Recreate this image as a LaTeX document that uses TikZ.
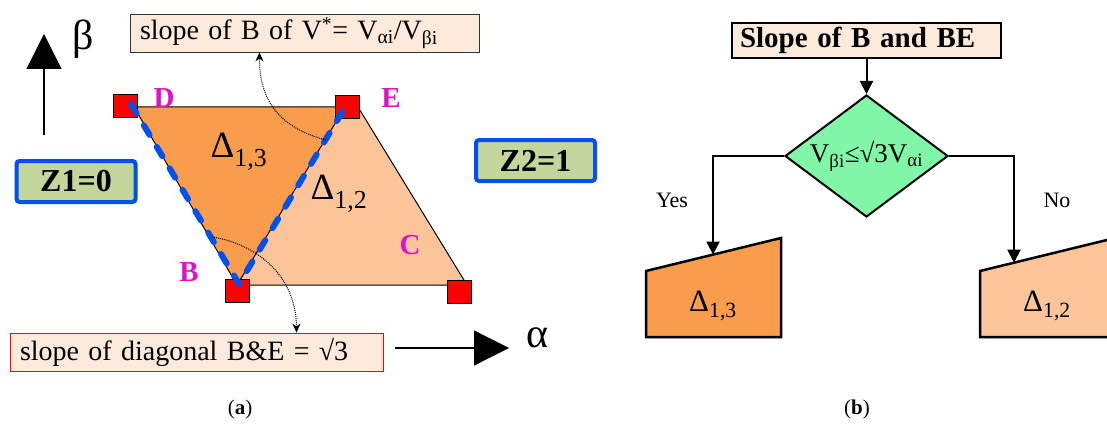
\documentclass[tikz,border=0pt]{standalone}
\usepackage{fontspec}
\setmainfont{Liberation Serif}
\usetikzlibrary{arrows.meta, positioning, shapes.geometric, calc}
\definecolor{peach}{RGB}{253,234,218}
\definecolor{darkorg}{RGB}{249,157,76}
\definecolor{lightorg}{RGB}{251,196,153}
\definecolor{zgreen}{RGB}{195,214,155}
\definecolor{zblue}{RGB}{0,80,240}
\definecolor{dgreen}{RGB}{128,247,166}
\definecolor{lblpink}{RGB}{228,16,200}
\newcommand{\fsz}[1]{\fontsize{#1}{#1}\selectfont}

\tikzset{
  vtx/.style={draw=black, fill=red, minimum width=24pt, minimum height=23pt, inner sep=0pt, line width=0.8pt},
  vlbl/.style={text=lblpink, font=\fsz{29}\bfseries, inner sep=0pt},
  zbox/.style={draw=zblue, fill=zgreen, line width=4pt, rounded corners=3pt, minimum width=119pt, minimum height=41pt, inner sep=0pt, font=\fsz{32}\bfseries},
  notebox/.style={fill=peach, line width=0.8pt, minimum height=38pt, inner xsep=10pt, inner ysep=0pt, align=left, font=\fsz{28}},
  flow/.style={line width=2pt, -{Triangle[length=13pt,width=13pt]}},
  hint/.style={densely dotted, line width=1pt, -{Stealth[length=9pt,width=8pt]}},
  axis/.style={line width=1.2pt, -{Triangle[length=35pt,width=35pt]}},
}

\begin{document}
\begin{tikzpicture}[x=1pt, y=-1pt]
  \useasboundingbox (0,0) rectangle (1107,425);
  \clip (0,0) rectangle (1107,425);

  \coordinate (D) at (134,107);
  \coordinate (E) at (358,107);
  \coordinate (C) at (467,285);
  \coordinate (B) at (237,285);
  \coordinate (Et) at (345,107);

  \fill[lightorg] (D) -- (E) -- (C) -- (B) -- cycle;
  \fill[darkorg] (D) -- (Et) -- (B) -- cycle;
  \draw[line width=1pt] (D) -- (E) -- (C) -- (B) -- cycle;
  \draw[line width=1pt] (B) -- (Et);

  \node[vtx] (sqD) at (125,105.5) {};
  \node[vtx] (sqE) at (347,106.5) {};
  \node[vtx] (sqB) at (237.5,291) {};
  \node[vtx] (sqC) at (459,291.5) {};

  \draw[zblue, line width=6pt, line cap=round, line join=round, dash pattern=on 11pt off 14pt]
    (131,104) -- (239,284) -- (347,104);

  \node[vlbl] (lD) at (164,98) {D};
  \node[vlbl] (lE) at (391,98) {E};
  \node[vlbl] (lB) at (189,272) {B};
  \node[vlbl] (lC) at (410,245) {C};

  \node[font=\fsz{37}, inner sep=0pt] (d13) at (239,152) {Δ\textsubscript{1,3}};
  \node[font=\fsz{37}, inner sep=0pt] (d12) at (339,194) {Δ\textsubscript{1,2}};

  \node[zbox] (z1) at (76,181.5) {Z1=0};
  \node[zbox] (z2) at (535.5,160.5) {Z2=1};

  \node[notebox, draw=black!80, text width=329pt] (slopeB) at (304.5,33)
    {slope of B of V\textsuperscript{*}= V\textsubscript{αi}/V\textsubscript{βi}};
  \node[notebox, draw=red, text width=353pt] (slopeBE) at (196.5,352)
    {slope of diagonal B\&E = √3};

  \coordinate (hitE) at (326,140);
  \coordinate (hitD) at (212,237);
  \draw[hint] (hitE) .. controls (288,130) and (259,108) .. ([xshift=-45pt]slopeB.south);
  \draw[hint] (hitD) .. controls (252,243) and (296,272) .. ([xshift=100pt]slopeBE.north);

  \coordinate (betaTail) at (44,135);
  \coordinate (betaTip) at (44,34);
  \coordinate (alphaTail) at (395,348);
  \coordinate (alphaTip) at (509,348);
  \draw[axis] (betaTail) -- (betaTip);
  \draw[axis] (alphaTail) -- (alphaTip);
  \node[font=\fsz{42}, inner sep=0pt] (beta) at (83,39) {β};
  \node[font=\fsz{42}, inner sep=0pt] (alpha) at (537,338) {α};

  \node[font=\fsz{21}] (capA) at (240,409) {(\textbf{a})};

  \node[draw, fill=peach, line width=2pt, minimum height=35pt, text width=253pt, inner xsep=8pt,
    inner ysep=0pt, align=left, font=\fsz{29}\bfseries] (ttl) at (866.5,40.5) {Slope of B and BE};
  \node[diamond, draw, fill=dgreen, line width=2pt, aspect=1.34, minimum width=163pt,
    minimum height=122pt, inner sep=0pt, font=\fsz{27}] (cond) at (866.5,156)
    {V\textsubscript{βi}≤√3V\textsubscript{αi}};
  \draw[flow] (ttl) -- (cond);

  \coordinate (yesTop) at (713,254.6);
  \coordinate (noTop) at (1014,262.7);
  \draw[line width=2.5pt, fill=darkorg] (646,271) -- (781,238) -- (781,337) -- (646,337) -- cycle;
  \draw[line width=2.5pt, fill=lightorg] (980,271) -- (1115,238) -- (1115,337) -- (980,337) -- cycle;
  \draw[flow] (cond.west) -| (yesTop);
  \draw[flow] (cond.east) -| (noTop);

  \node[font=\fsz{22}] (yes) at (672,200) {Yes};
  \node[font=\fsz{22}] (no) at (1057,200) {No};
  \node[font=\fsz{31}, inner sep=0pt] (r13) at (713,306) {Δ\textsubscript{1,3}};
  \node[font=\fsz{31}, inner sep=0pt] (r12) at (1047,306) {Δ\textsubscript{1,2}};

  \node[font=\fsz{21}] (capB) at (857,409) {(\textbf{b})};
\end{tikzpicture}
\end{document}
